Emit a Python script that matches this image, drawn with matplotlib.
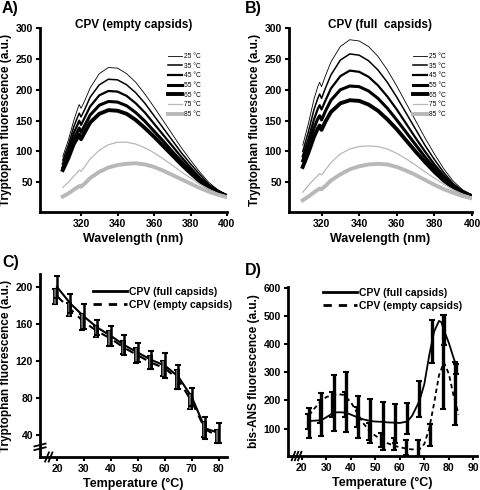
import matplotlib
matplotlib.use('Agg')
import matplotlib.pyplot as plt
from matplotlib.lines import Line2D

plt.rcParams['font.family'] = ['Liberation Sans', 'DejaVu Sans']
plt.rcParams['font.weight'] = 'bold'
plt.rcParams['axes.labelweight'] = 'bold'

# ---- panels A/B : emission spectra ----
wl = [310, 313, 316, 318, 319, 320, 322, 325, 330, 335, 340, 345, 350, 355,
      360, 365, 370, 375, 380, 385, 390, 395, 400]
temp_labels = ['25 °C', '35 °C', '45 °C', '55 °C', '65 °C', '75 °C', '85 °C']

spec_empty = [
    [92, 118, 150, 168, 176, 170, 182, 203, 226, 236, 235, 226, 212, 193, 172, 150, 128, 106, 86, 67, 50, 38, 29],
    [86, 110, 140, 155, 162, 156, 168, 188, 208, 217, 216, 208, 195, 178, 158, 138, 118, 98, 80, 63, 47, 37, 29],
    [80, 102, 130, 143, 150, 143, 155, 173, 191, 198, 197, 190, 178, 163, 145, 127, 109, 91, 74, 58, 45, 36, 29],
    [74, 95, 120, 132, 138, 131, 142, 159, 175, 181, 180, 174, 163, 149, 133, 117, 100, 84, 69, 55, 43, 35, 28],
    [70, 89, 112, 122, 127, 120, 131, 147, 161, 167, 166, 161, 151, 138, 124, 109, 94, 79, 65, 52, 41, 34, 28],
    [42, 50, 60, 66, 70, 68, 75, 88, 102, 111, 115, 115, 112, 106, 98, 88, 78, 67, 57, 47, 39, 32, 27],
    [27, 32, 38, 42, 44, 43, 48, 57, 67, 74, 78, 80, 81, 79, 75, 69, 62, 55, 48, 41, 35, 30, 26],
]
spec_full = [
    [110, 145, 185, 205, 212, 205, 222, 245, 270, 281, 279, 270, 254, 232, 206, 178, 150, 122, 96, 72, 52, 38, 30],
    [100, 132, 168, 186, 193, 186, 202, 224, 248, 258, 256, 247, 232, 212, 188, 162, 136, 110, 87, 66, 48, 36, 29],
    [92, 120, 152, 169, 175, 168, 182, 202, 222, 231, 229, 221, 207, 189, 168, 145, 122, 100, 79, 61, 46, 35, 29],
    [85, 110, 138, 153, 158, 151, 165, 183, 200, 206, 205, 198, 186, 170, 151, 131, 111, 91, 73, 57, 44, 34, 28],
    [75, 98, 124, 137, 142, 135, 148, 164, 178, 183, 182, 176, 166, 152, 136, 118, 100, 83, 67, 53, 41, 33, 27],
    [34, 45, 55, 61, 64, 62, 70, 82, 96, 104, 108, 109, 108, 104, 97, 88, 78, 67, 57, 47, 38, 31, 26],
    [21, 27, 34, 38, 40, 39, 44, 53, 63, 71, 76, 79, 80, 79, 75, 69, 62, 54, 46, 39, 33, 28, 24],
]
line_colors = ['black'] * 5 + ['#b8b8b8', '#b8b8b8']
line_widths = [0.6, 1.1, 1.6, 2.2, 2.8, 0.9, 2.8]

# ---- panel C : tryptophan fluorescence vs temperature ----
c_temp = [20, 25, 30, 35, 40, 45, 50, 55, 60, 65, 70, 75, 80]
c_full = [200, 182, 168, 156, 147, 137, 129, 121, 115, 103, 81, 47, 42]
c_full_err = [12, 10, 13, 8, 11, 11, 10, 10, 13, 13, 10, 12, 11]
c_empty = [190, 176, 162, 152, 144, 134, 126, 118, 112, 100, 76, 46, 38]
c_empty_err = [8, 7, 9, 6, 8, 7, 8, 7, 8, 10, 8, 8, 7]

# ---- panel D : bis-ANS fluorescence vs temperature ----
d_temp = [23, 28, 33, 38, 43, 48, 53, 58, 63, 68, 73, 78, 83]
d_full = [120, 150, 190, 195, 142, 127, 110, 118, 135, 205, 410, 450, 312]
d_full_err = [53, 78, 100, 107, 74, 78, 85, 68, 55, 65, 75, 53, 18]
d_empty = [125, 160, 185, 185, 140, 90, 60, 45, 32, 31, 77, 337, 225]
d_empty_err = [27, 40, 45, 45, 35, 30, 25, 20, 26, 27, 38, 166, 112]
# fitted curves
d_fit_full_t = [23, 25, 28, 30, 33, 35, 38, 40, 43, 45, 48, 50, 53, 55, 58, 60,
                63, 65, 68, 70, 72, 74, 76, 77, 78, 80, 82, 83]
d_fit_full = [127, 128, 130, 140, 157, 158, 157, 150, 139, 133, 127, 125, 124, 122,
              121, 120, 125, 145, 198, 258, 360, 445, 483, 478, 450, 405, 350, 325]
d_fit_empty_t = [23, 25, 28, 30, 33, 35, 37, 40, 43, 45, 48, 50, 53, 55, 58, 60,
                 63, 65, 68, 70, 72, 74, 76, 78, 80, 82, 84]
d_fit_empty = [147, 170, 198, 212, 220, 222, 220, 195, 150, 120, 88, 75, 58, 48,
               38, 34, 28, 26, 26, 45, 100, 190, 290, 335, 295, 215, 150]

W, H = 480, 490
fig = plt.figure(figsize=(W / 100, H / 100), dpi=100)


def px_axes(l, t, r, b):
    return fig.add_axes([l / W, 1 - b / H, (r - l) / W, (b - t) / H])


def style(ax):
    for s in ['top', 'right']:
        ax.spines[s].set_visible(False)
    for s in ['left', 'bottom']:
        ax.spines[s].set_linewidth(2)
    ax.tick_params(direction='out', length=3, width=1.5, labelsize=7.5, pad=2)
    for lab in ax.get_xticklabels() + ax.get_yticklabels():
        lab.set_fontweight('bold')


def break_x(ax, xs):
    for x in xs:
        ax.plot([x - 0.7, x + 0.7], [-0.025, 0.025], color='black', lw=1.3,
                transform=ax.get_xaxis_transform(), clip_on=False)


def spectra_panel(ax, data, title, xlim, leg_x):
    for row, lab, c, lw in zip(data, temp_labels, line_colors, line_widths):
        ax.plot(wl, row, color=c, lw=lw, label=lab)
    ax.set_xlim(*xlim)
    ax.set_ylim(2, 300)
    ax.set_xticks([320, 340, 360, 380, 400])
    ax.set_yticks([50, 100, 150, 200, 250, 300])
    ax.set_xlabel('Wavelength (nm)', fontsize=9, labelpad=3)
    ax.set_ylabel('Tryptophan fluorescence (a.u.)', fontsize=8.5, labelpad=3)
    ax.text(0.5, 1.015, title, transform=ax.transAxes, ha='center', va='center',
            fontsize=8.5, fontweight='bold')
    ax.legend(loc='upper left', bbox_to_anchor=(leg_x, 0.865), frameon=False,
              prop={'size': 4.8, 'weight': 'normal'}, handlelength=2.1,
              handletextpad=0.3, labelspacing=0.4, borderpad=0, borderaxespad=0)
    style(ax)


axA = px_axes(40, 28, 227, 212)
spectra_panel(axA, spec_empty, 'CPV (empty capsids)', (297.5, 400), 0.684)
axB = px_axes(289, 28, 472, 212)
spectra_panel(axB, spec_full, 'CPV (full  capsids)', (302.7, 400), 0.678)

# panel C
axC = px_axes(40, 274, 227, 457)
axC.plot(c_temp, c_full, color='black', lw=1.5)
axC.plot(c_temp, c_empty, color='black', lw=1.5, ls=(0, (4, 3)))
axC.errorbar([t - 0.6 for t in c_temp], c_empty, yerr=c_empty_err, fmt='none',
             ecolor='black', elinewidth=3.5, capsize=2, capthick=1.5)
axC.errorbar([t - 0.6 for t in c_temp], c_empty, yerr=c_empty_err, fmt='none',
             ecolor='#707070', elinewidth=1.3)
axC.errorbar(c_temp, c_full, yerr=c_full_err, fmt='none', ecolor='black',
             elinewidth=1.8, capsize=2, capthick=1.5)
axC.set_xlim(13.7, 83.1)
axC.set_ylim(16, 214)
axC.set_xticks([20, 30, 40, 50, 60, 70, 80])
axC.set_yticks([40, 80, 120, 160, 200])
axC.set_xlabel('Temperature (°C)', fontsize=9, labelpad=3)
axC.set_ylabel('Tryptophan fluorescence (a.u.)', fontsize=8.5, labelpad=3)
legC = [Line2D([], [], color='black', lw=2), Line2D([], [], color='black', lw=2, ls=(0, (3, 2.5)))]
axC.legend(legC, ['CPV (full capsids)', 'CPV (empty capsids)'], loc='upper left',
           bbox_to_anchor=(0.283, 0.93), frameon=False, prop={'size': 7.5, 'weight': 'bold'},
           handlelength=3.3, handletextpad=0.2, labelspacing=0.3, borderpad=0, borderaxespad=0)
style(axC)
break_x(axC, [16.3, 17.6])
for v in [25, 29]:
    axC.plot([-0.03, 0.03], [v - 1.5, v + 1.5], color='black', lw=1.3,
             transform=axC.get_yaxis_transform(), clip_on=False)

# panel D
axD = px_axes(288, 287, 477, 456)
axD.plot(d_fit_full_t, d_fit_full, color='black', lw=1.3)
axD.plot(d_fit_empty_t, d_fit_empty, color='black', lw=1.3, ls=(0, (2.5, 1.8)))
axD.errorbar([t - 0.5 for t in d_temp], d_empty, yerr=d_empty_err, fmt='none',
             ecolor='black', elinewidth=2.4, capsize=2.2, capthick=1.5)
axD.errorbar(d_temp, d_full, yerr=d_full_err, fmt='none', ecolor='black',
             elinewidth=2.4, capsize=2.2, capthick=1.5)
axD.set_xlim(14.4, 91.5)
axD.set_ylim(2.5, 603.5)
axD.set_xticks([20, 30, 40, 50, 60, 70, 80, 90])
axD.set_yticks([100, 200, 300, 400, 500, 600])
axD.set_xlabel('Temperature (°C)', fontsize=9, labelpad=3)
axD.set_ylabel('bis-ANS fluorescence (a.u.)', fontsize=8.5, labelpad=3)
axD.legend(legC, ['CPV (full capsids)', 'CPV (empty capsids)'], loc='upper left',
           bbox_to_anchor=(0.185, 0.997), frameon=False, prop={'size': 7.5, 'weight': 'bold'},
           handlelength=3.3, handletextpad=0.2, labelspacing=0.3, borderpad=0, borderaxespad=0)
style(axD)
break_x(axD, [16.6, 17.9, 19.2])

# panel letters
fig.text(2 / W, 1 - 9 / H, 'A)', fontsize=11.5, fontweight='bold', va='center')
fig.text(245 / W, 1 - 9 / H, 'B)', fontsize=11.5, fontweight='bold', va='center')
fig.text(2 / W, 1 - 262 / H, 'C)', fontsize=11.5, fontweight='bold', va='center')
fig.text(245 / W, 1 - 270 / H, 'D)', fontsize=11.5, fontweight='bold', va='center')

fig.savefig('out.png', dpi=100)
